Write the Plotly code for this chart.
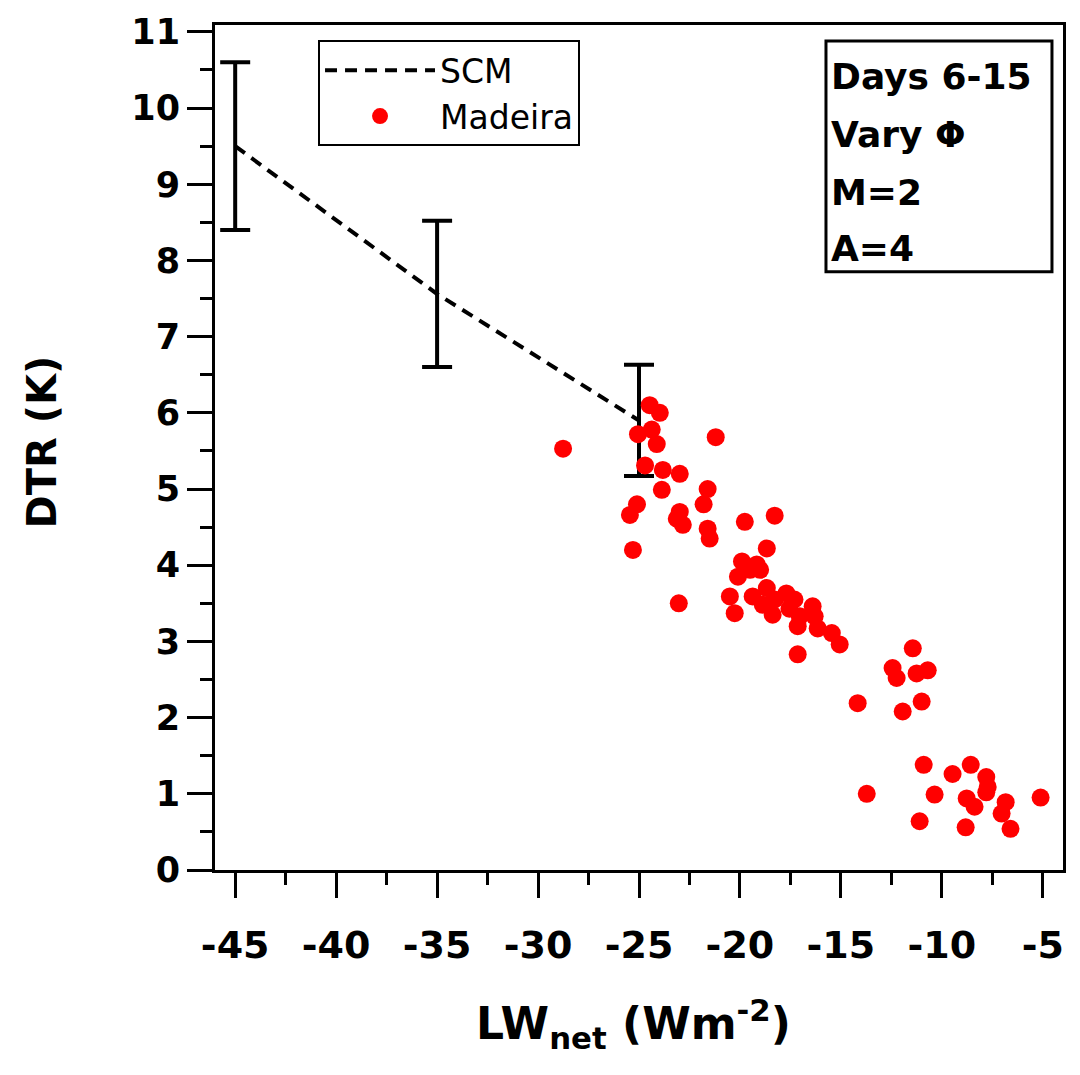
import plotly.graph_objects as go

# SCM model results
scm_x = [-45, -35, -25]
scm_y = [9.5, 7.56, 5.9]
scm_err = [1.1, 0.96, 0.73]

# Madeira observations
mad_x = [-28.76, -24.47, -23.97, -25.05, -24.37, -24.12, -21.2, -24.7, -23.82, -22.98,
         -23.87, -21.6, -21.8, -25.1, -25.45, -22.98, -23.13, -22.83, -21.6, -21.5,
         -25.3, -23.03, -19.76, -18.28, -18.67, -19.9, -19.17, -20.1, -19.5, -19.0,
         -20.5, -20.26, -19.37, -18.67, -18.87, -18.38, -18.28, -17.7, -17.3, -17.55,
         -17.04, -16.4, -16.3, -17.14, -16.15, -15.45, -15.06, -17.14,
         -11.44, -12.44, -12.24, -11.25, -10.7, -14.17, -11.94, -11.0,
         -10.9, -9.47, -8.57, -7.8, -7.73, -7.8, -13.72, -10.36, -8.77, -8.38,
         -6.84, -7.04, -5.11, -11.1, -8.82, -6.6]
mad_y = [5.53, 6.10, 6.0, 5.72, 5.78, 5.59, 5.68, 5.31, 5.25, 5.2,
         4.99, 5.0, 4.8, 4.8, 4.66, 4.7, 4.61, 4.53, 4.48, 4.35,
         4.2, 3.5, 4.57, 4.65, 4.22, 4.05, 4.01, 3.85, 3.94, 3.94,
         3.59, 3.37, 3.59, 3.7, 3.48, 3.35, 3.55, 3.63, 3.55, 3.43,
         3.33, 3.46, 3.33, 3.2, 3.17, 3.11, 2.96, 2.83,
         2.91, 2.65, 2.52, 2.58, 2.62, 2.19, 2.08, 2.21,
         1.38, 1.26, 1.38, 1.22, 1.09, 1.02, 1.0, 0.99, 0.94, 0.83,
         0.89, 0.74, 0.95, 0.64, 0.56, 0.54]

x_ticks = [-45, -40, -35, -30, -25, -20, -15, -10, -5]
y_ticks = list(range(0, 12))

info_lines = ["Days 6-15", "Vary Φ", "M=2", "A=4"]

FONT = "DejaVu Sans"

fig = go.Figure()
fig.add_trace(go.Scatter(
    x=scm_x, y=scm_y, mode="lines", name="SCM",
    line=dict(color="black", width=4, dash="12px,8px"),
    error_y=dict(type="data", array=scm_err, visible=True, color="black",
                 thickness=4, width=15),
))
fig.add_trace(go.Scatter(
    x=mad_x, y=mad_y, mode="markers", name="Madeira",
    marker=dict(color="#ff0000", size=18, line=dict(width=0)),
))

fig.update_layout(
    width=1080, height=1075,
    margin=dict(l=215, r=17, t=20, b=205),
    paper_bgcolor="white", plot_bgcolor="white",
    font=dict(family=FONT, color="black"),
    showlegend=True,
    legend=dict(x=0.1215, y=0.982, xanchor="left", yanchor="top",
                bordercolor="black", borderwidth=2, bgcolor="white",
                font=dict(family=FONT, size=33, color="black"),
                tracegroupgap=0, itemwidth=110),
)

axis_common = dict(showline=True, linecolor="black", linewidth=3, mirror=True,
                   ticks="outside", ticklen=25, tickwidth=3, tickcolor="black",
                   showgrid=False, zeroline=False)

fig.update_xaxes(range=[-46, -4], tickvals=x_ticks,
                 ticktext=[str(v) for v in x_ticks],
                 tickfont=dict(family=FONT, size=38, color="black", weight="bold"),
                 ticklabelstandoff=14,
                 minor=dict(dtick=2.5, tick0=-45, ticks="outside", ticklen=12,
                            tickwidth=3, tickcolor="black"),
                 **axis_common)
fig.update_yaxes(range=[0, 11.09], tickvals=y_ticks,
                 ticktext=[str(v) for v in y_ticks],
                 tickfont=dict(family=FONT, size=35, color="black", weight="bold"),
                 minor=dict(dtick=0.5, tick0=0, ticks="outside", ticklen=12,
                            tickwidth=3, tickcolor="black"),
                 **axis_common)

# axis titles
fig.add_annotation(x=-0.204, y=0.506, xref="paper", yref="paper",
                   xanchor="center", yanchor="middle",
                   text="<b>DTR (K)</b>", textangle=-90, showarrow=False,
                   font=dict(family=FONT, size=40, color="black"))
fig.add_annotation(x=0.494, y=-0.182, xref="paper", yref="paper",
                   xanchor="center", yanchor="middle",
                   text="<b>LW<sub>net</sub> (Wm<sup>-2</sup>)</b>", showarrow=False,
                   font=dict(family=FONT, size=44, color="black"))

# info box
fig.add_shape(type="rect", xref="paper", yref="paper",
              x0=0.7205, x1=0.987, y0=0.708, y1=0.981,
              line=dict(color="black", width=3), fillcolor="white", layer="above")
line_pix = [72, 130, 188, 245]
for txt, py in zip(info_lines, line_pix):
    fig.add_annotation(x=(829 - 215) / 848, y=(870 - py) / 850, xref="paper", yref="paper",
                       xanchor="left", yanchor="middle", text="<b>" + txt + "</b>",
                       showarrow=False, font=dict(family=FONT, size=36, color="black"))

fig.write_html("out.html")
